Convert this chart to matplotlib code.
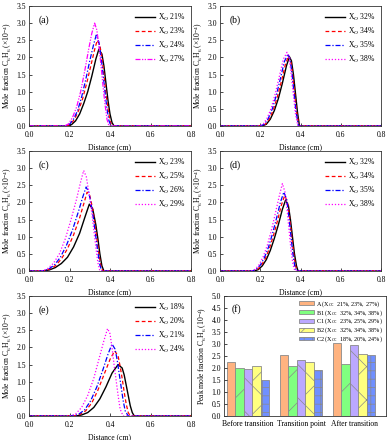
import matplotlib
matplotlib.use("Agg")
import matplotlib.pyplot as plt
import numpy as np

plt.rcParams['font.family'] = ['Liberation Serif', 'DejaVu Serif']
plt.rcParams['mathtext.fontset'] = 'custom'
plt.rcParams['mathtext.rm'] = 'Liberation Serif'
plt.rcParams['mathtext.it'] = 'Liberation Serif:italic'
plt.rcParams['hatch.linewidth'] = 0.5

# ---------------- data ----------------
# panel (a)
a_labels = ['21%', '23%', '24%', '27%']
a_x = [
    [0, 0.19, 0.21, 0.23, 0.25, 0.27, 0.29, 0.31, 0.33, 0.345, 0.36, 0.37, 0.38, 0.39, 0.40, 0.41, 0.42, 0.8],
    [0, 0.185, 0.205, 0.225, 0.245, 0.265, 0.285, 0.305, 0.325, 0.337, 0.35, 0.36, 0.37, 0.38, 0.39, 0.40, 0.41, 0.8],
    [0, 0.18, 0.20, 0.22, 0.24, 0.26, 0.28, 0.30, 0.32, 0.332, 0.345, 0.355, 0.365, 0.375, 0.385, 0.395, 0.405, 0.8],
    [0, 0.175, 0.195, 0.215, 0.235, 0.255, 0.275, 0.295, 0.31, 0.324, 0.335, 0.345, 0.355, 0.365, 0.375, 0.385, 0.395, 0.8],
]
a_y = [
    [0, 0, 0.04, 0.15, 0.35, 0.65, 1.0, 1.45, 1.95, 2.24, 2.1, 1.75, 1.25, 0.75, 0.35, 0.1, 0, 0],
    [0, 0, 0.05, 0.2, 0.45, 0.8, 1.25, 1.75, 2.25, 2.5, 2.35, 2.0, 1.5, 0.95, 0.5, 0.15, 0, 0],
    [0, 0, 0.05, 0.2, 0.45, 0.85, 1.35, 1.9, 2.4, 2.65, 2.45, 2.05, 1.55, 1.0, 0.5, 0.15, 0, 0],
    [0, 0, 0.06, 0.25, 0.55, 1.0, 1.6, 2.25, 2.7, 3.0, 2.8, 2.35, 1.8, 1.2, 0.65, 0.2, 0, 0],
]
# panel (b)
b_labels = ['32%', '34%', '35%', '38%']
b_x = [
    [0, 0.21, 0.23, 0.25, 0.27, 0.29, 0.31, 0.33, 0.345, 0.355, 0.365, 0.375, 0.385, 0.395, 0.8],
    [0, 0.205, 0.225, 0.245, 0.265, 0.285, 0.305, 0.325, 0.341, 0.351, 0.361, 0.371, 0.381, 0.392, 0.8],
    [0, 0.20, 0.22, 0.24, 0.26, 0.28, 0.30, 0.32, 0.338, 0.348, 0.358, 0.368, 0.378, 0.39, 0.8],
    [0, 0.195, 0.215, 0.235, 0.255, 0.275, 0.295, 0.315, 0.333, 0.343, 0.353, 0.363, 0.375, 0.387, 0.8],
]
b_y = [
    [0, 0, 0.05, 0.2, 0.45, 0.8, 1.25, 1.75, 2.02, 1.9, 1.5, 0.95, 0.4, 0, 0],
    [0, 0, 0.05, 0.2, 0.47, 0.85, 1.3, 1.8, 2.05, 1.92, 1.5, 0.95, 0.4, 0, 0],
    [0, 0, 0.05, 0.22, 0.5, 0.9, 1.38, 1.88, 2.1, 1.95, 1.52, 0.95, 0.4, 0, 0],
    [0, 0, 0.06, 0.24, 0.53, 0.95, 1.45, 1.95, 2.15, 2.0, 1.55, 1.0, 0.35, 0, 0],
]
# panel (c)
c_labels = ['23%', '25%', '26%', '29%']
c_x = [
    [0, 0.07, 0.10, 0.13, 0.16, 0.19, 0.22, 0.25, 0.275, 0.298, 0.315, 0.33, 0.34, 0.35, 0.36, 0.37, 0.8],
    [0, 0.07, 0.10, 0.13, 0.16, 0.19, 0.22, 0.25, 0.27, 0.287, 0.30, 0.315, 0.325, 0.335, 0.345, 0.355, 0.365, 0.8],
    [0, 0.065, 0.095, 0.125, 0.155, 0.185, 0.215, 0.245, 0.265, 0.282, 0.295, 0.31, 0.32, 0.33, 0.34, 0.35, 0.36, 0.8],
    [0, 0.06, 0.09, 0.12, 0.15, 0.18, 0.21, 0.235, 0.255, 0.27, 0.283, 0.298, 0.31, 0.32, 0.33, 0.34, 0.35, 0.8],
]
c_y = [
    [0, 0, 0.03, 0.1, 0.22, 0.4, 0.7, 1.1, 1.55, 1.95, 1.8, 1.35, 0.95, 0.5, 0.15, 0, 0],
    [0, 0, 0.05, 0.15, 0.35, 0.65, 1.05, 1.55, 1.95, 2.3, 2.2, 1.8, 1.4, 0.95, 0.5, 0.15, 0, 0],
    [0, 0, 0.05, 0.17, 0.4, 0.75, 1.2, 1.75, 2.15, 2.45, 2.3, 1.85, 1.45, 1.0, 0.55, 0.17, 0, 0],
    [0, 0, 0.06, 0.22, 0.5, 0.95, 1.55, 2.1, 2.6, 2.93, 2.75, 2.2, 1.7, 1.2, 0.7, 0.25, 0, 0],
]
# panel (d)
d_labels = ['32%', '34%', '35%', '38%']
d_x = [
    [0, 0.17, 0.19, 0.21, 0.23, 0.25, 0.27, 0.29, 0.31, 0.326, 0.34, 0.35, 0.36, 0.37, 0.38, 0.388, 0.8],
    [0, 0.165, 0.185, 0.205, 0.225, 0.245, 0.265, 0.285, 0.305, 0.321, 0.335, 0.345, 0.355, 0.365, 0.375, 0.383, 0.8],
    [0, 0.16, 0.18, 0.20, 0.22, 0.24, 0.26, 0.28, 0.30, 0.317, 0.331, 0.341, 0.351, 0.361, 0.371, 0.38, 0.8],
    [0, 0.155, 0.175, 0.195, 0.215, 0.235, 0.255, 0.275, 0.295, 0.31, 0.323, 0.333, 0.343, 0.353, 0.363, 0.372, 0.8],
]
d_y = [
    [0, 0, 0.04, 0.15, 0.33, 0.6, 0.95, 1.35, 1.8, 2.07, 1.9, 1.5, 1.0, 0.5, 0.15, 0, 0],
    [0, 0, 0.04, 0.16, 0.36, 0.65, 1.02, 1.45, 1.92, 2.2, 2.02, 1.6, 1.08, 0.55, 0.16, 0, 0],
    [0, 0, 0.05, 0.17, 0.38, 0.68, 1.07, 1.52, 2.0, 2.3, 2.1, 1.65, 1.1, 0.55, 0.16, 0, 0],
    [0, 0, 0.05, 0.19, 0.42, 0.75, 1.18, 1.68, 2.2, 2.55, 2.3, 1.8, 1.2, 0.6, 0.18, 0, 0],
]
# panel (e)
e_labels = ['18%', '20%', '21%', '24%']
e_x = [
    [0, 0.23, 0.26, 0.29, 0.32, 0.35, 0.38, 0.41, 0.44, 0.46, 0.47, 0.48, 0.49, 0.50, 0.51, 0.52, 0.8],
    [0, 0.22, 0.25, 0.28, 0.31, 0.34, 0.37, 0.40, 0.423, 0.44, 0.45, 0.46, 0.47, 0.48, 0.49, 0.50, 0.8],
    [0, 0.215, 0.245, 0.275, 0.305, 0.335, 0.365, 0.39, 0.41, 0.425, 0.435, 0.445, 0.455, 0.465, 0.475, 0.49, 0.8],
    [0, 0.2, 0.23, 0.26, 0.29, 0.32, 0.345, 0.37, 0.388, 0.40, 0.41, 0.42, 0.43, 0.44, 0.45, 0.465, 0.8],
]
e_y = [
    [0, 0, 0.03, 0.1, 0.25, 0.5, 0.85, 1.25, 1.5, 1.4, 1.2, 0.9, 0.6, 0.3, 0.1, 0, 0],
    [0, 0, 0.04, 0.15, 0.38, 0.75, 1.2, 1.65, 1.9, 1.75, 1.45, 1.1, 0.7, 0.35, 0.1, 0, 0],
    [0, 0, 0.05, 0.18, 0.45, 0.85, 1.35, 1.8, 2.1, 1.95, 1.65, 1.25, 0.85, 0.45, 0.15, 0, 0],
    [0, 0, 0.06, 0.25, 0.6, 1.1, 1.65, 2.2, 2.55, 2.4, 2.0, 1.5, 1.05, 0.6, 0.2, 0, 0],
]
# panel (f)
f_categories = ['Before transition', 'Transition point', 'After transition']
f_series = ['A (X$_O$:  21%, 23%, 27%)', 'B1 (X$_O$:  32%, 34%, 38%)',
            'C1 (X$_O$:  23%, 25%, 29%)', 'B2 (X$_O$:  32%, 34%, 38%)',
            'C2 (X$_O$:  18%, 20%, 24%)']
f_A = [2.27, 2.55, 3.03]
f_B1 = [2.02, 2.07, 2.18]
f_C1 = [1.95, 2.32, 2.95]
f_B2 = [2.08, 2.25, 2.57]
f_C2 = [1.52, 1.90, 2.53]

# ---------------- styling ----------------
colors = ['black', '#FF0000', '#0000FF', '#FF00FF']
styles_a = ['-', (0, (3, 2)), (0, (4, 1.5, 1, 1.5)), (0, (4, 1.2, 1, 1.2, 1, 1.2))]
styles = ['-', (0, (3, 2)), (0, (4, 1.5, 1, 1.5)), (0, (1, 1.5))]
FS = 5.5

fig = plt.figure(figsize=(3.9, 4.4), dpi=100)

def px_axes(l, t, r, b):
    W, H = 390, 440
    return fig.add_axes([l / W, 1 - b / H, (r - l) / W, (b - t) / H])

def style_ax(ax):
    ax.tick_params(direction='in', labelsize=FS, length=2, width=0.5)
    ax.tick_params(axis='x', pad=3.5)
    ax.tick_params(axis='y', pad=2.0)
    for s in ax.spines.values():
        s.set_linewidth(0.6)
        s.set_color('#333333')

def line_panel(ax, xs, ys, labels, letter, lstyles):
    for i in range(4):
        ax.plot(xs[i], ys[i], color=colors[i], linestyle=lstyles[i],
                lw=1.0 if i == 0 else 0.9, label='X$_O$ ' + labels[i])
    ax.set_xlim(0, 0.8)
    ax.set_ylim(0, 3.5)
    ax.set_xticks(np.arange(0, 0.81, 0.2))
    ax.set_yticks(np.arange(0, 3.51, 0.5))
    ax.xaxis.set_major_formatter(matplotlib.ticker.FormatStrFormatter('%.1f'))
    ax.yaxis.set_major_formatter(matplotlib.ticker.FormatStrFormatter('%.1f'))
    style_ax(ax)
    ax.set_xlabel('Distance (cm)', fontsize=FS, labelpad=3)
    ax.set_ylabel('Mole fraction C$_6$H$_6$ (×10$^{-4}$)', fontsize=FS, labelpad=2)
    ax.text(0.06, 0.92, letter, transform=ax.transAxes, fontsize=7, va='top')
    ax.legend(loc='upper right', frameon=False, fontsize=FS, handlelength=2.6,
              labelspacing=0.35, borderaxespad=0.4, handletextpad=0.3)

ax_a = px_axes(29, 6, 191, 126)
line_panel(ax_a, a_x, a_y, a_labels, '(a)', styles_a)
ax_b = px_axes(220, 6, 381, 126)
line_panel(ax_b, b_x, b_y, b_labels, '(b)', styles)
ax_c = px_axes(29, 151, 191, 271)
line_panel(ax_c, c_x, c_y, c_labels, '(c)', styles)
ax_d = px_axes(220, 151, 381, 271)
line_panel(ax_d, d_x, d_y, d_labels, '(d)', styles)
ax_e = px_axes(29, 296, 191, 416)
line_panel(ax_e, e_x, e_y, e_labels, '(e)', styles)

# panel (f)
ax_f = px_axes(224, 296, 386, 416)
bar_colors = ['#FFB380', '#80FF80', '#BBA8FF', '#FFFF80', '#7090FF']
hatches = ['', '/', '\\', 'x', '++']
vals = [f_A, f_B1, f_C1, f_B2, f_C2]
xc = np.arange(len(f_categories))
w = 0.16
for i in range(5):
    ax_f.bar(xc + (i - 2) * w, vals[i], width=w, color=bar_colors[i],
             edgecolor='#8a8a8a', hatch=hatches[i], lw=0.6, label=f_series[i])
ax_f.set_xlim(-0.45, 2.6)
ax_f.set_ylim(0, 5.0)
ax_f.set_yticks(np.arange(0, 5.01, 0.5))
ax_f.yaxis.set_major_formatter(matplotlib.ticker.FormatStrFormatter('%.1f'))
ax_f.set_xticks(xc)
ax_f.set_xticklabels(f_categories)
style_ax(ax_f)
ax_f.tick_params(axis='x', length=0, pad=3)
ax_f.set_ylabel('Peak mole fraction C$_6$H$_6$ (10$^{-4}$)', fontsize=FS, labelpad=2)
ax_f.text(0.05, 0.93, '(f)', transform=ax_f.transAxes, fontsize=7, va='top')
ax_f.legend(loc='upper right', frameon=False, fontsize=4.4, handlelength=2.4,
            handleheight=0.6, labelspacing=-0.15, borderaxespad=0.1, handletextpad=0.4)

fig.savefig('out.png', dpi=100)
